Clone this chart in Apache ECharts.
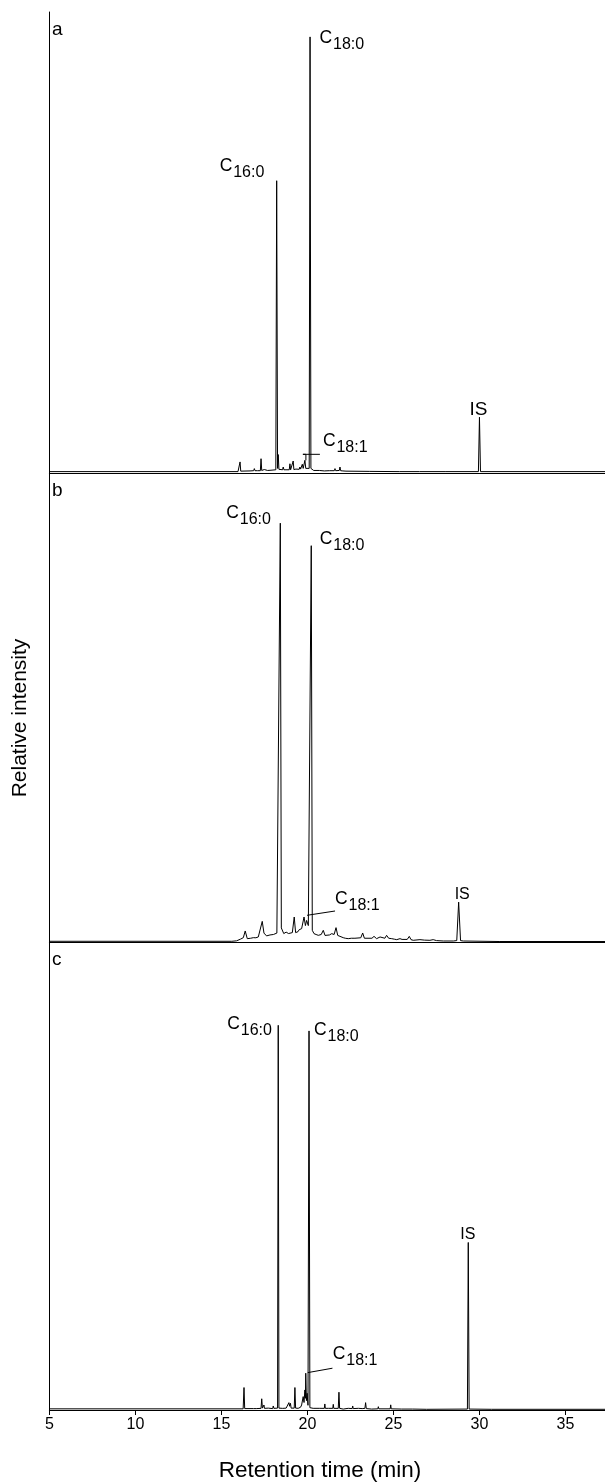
<!DOCTYPE html>
<html><head><meta charset="utf-8">
<script src="https://cdn.jsdelivr.net/npm/echarts@6/dist/echarts.min.js"></script>
<style>html,body{margin:0;padding:0;background:#fff}#c{width:605px;height:1483px}</style>
</head><body><div id="c"></div>
<script>
// ---------- DATA ----------
const panelLetters = ['a', 'b', 'c'];
const xTickValues = [5, 10, 15, 20, 25, 30, 35];
const xTitle = 'Retention time (min)';
const yTitle = 'Relative intensity';

// chromatogram traces: [retention time (min), relative intensity (% of panel)]
const traceA = [
[5,0.3],[15.96,0.3],[16.04,0.4],[16.08,2.4],[16.12,0.4],
[16.66,0.45],[16.71,0.6],[16.75,0.45],
[16.87,0.5],[16.91,0.95],[16.95,0.5],
[17.01,0.5],[17.05,0.6],[17.09,0.5],
[17.26,0.5],[17.30,3.1],[17.34,0.55],
[17.45,0.55],[17.49,0.75],[17.53,0.55],
[17.68,0.55],[17.72,0.6],[17.76,0.55],
[17.88,0.6],[17.92,0.95],[17.96,0.6],
[18.16,0.7],[18.21,63.4],[18.26,1.0],[18.30,4.0],[18.34,0.8],
[18.55,0.7],[18.59,1.3],[18.63,0.7],
[18.75,0.7],[18.79,0.8],[18.83,0.7],
[18.94,0.7],[18.98,2.0],[19.02,0.7],
[19.13,0.75],[19.17,2.6],[19.21,0.75],
[19.29,0.75],[19.33,0.85],[19.37,0.75],
[19.52,0.8],[19.56,1.3],[19.60,0.85],
[19.66,0.9],[19.70,1.9],[19.75,1.0],[19.81,1.0],[19.85,2.75],[19.90,1.0],
[20.10,1.0],[20.15,94.6],[20.20,1.0],
[20.36,0.55],[20.40,0.65],[20.44,0.55],
[20.69,0.55],[20.73,0.75],[20.77,0.5],
[20.98,0.45],[21.02,0.5],[21.06,0.45],
[21.27,0.5],[21.31,0.6],[21.35,0.5],
[21.56,0.5],[21.60,0.95],[21.64,0.5],
[21.85,0.55],[21.89,1.3],[21.93,0.5],
[21.98,0.5],[22.02,0.75],[22.06,0.45],
[22.24,0.4],[22.28,0.5],[22.32,0.4],
[23.59,0.35],[23.63,0.5],[23.67,0.35],
[25.34,0.3],[25.38,0.45],[25.42,0.3],
[26.51,0.3],[26.55,0.4],[26.59,0.3],
[28.05,0.3],[28.09,0.35],[28.13,0.3],
[29.94,0.3],[30.0,12.1],[30.06,0.3],
[37.3,0.3]
];
const traceB = [
[5,0.15],[15.6,0.15],[15.88,0.25],[16.1,0.6],[16.27,0.92],[16.38,2.35],[16.50,0.71],[16.7,0.8],
[16.85,0.92],[17.0,0.9],[17.14,1.07],[17.25,1.3],[17.37,4.4],[17.47,1.9],[17.53,1.78],[17.62,1.3],
[17.72,1.2],[17.82,1.5],[17.92,1.42],[18.02,1.6],[18.11,1.78],[18.22,1.9],[18.42,89.3],[18.48,3.0],
[18.56,2.84],[18.62,1.8],[18.69,1.92],[18.76,2.1],[18.83,2.49],[18.90,1.8],[18.98,1.78],[19.12,2.0],
[19.23,5.33],[19.31,2.0],[19.37,1.78],[19.45,2.2],[19.52,2.63],[19.59,2.3],[19.66,2.84],[19.72,2.6],
[19.80,5.33],[19.88,3.5],[19.95,4.6],[20.05,3.5],[20.22,84.5],[20.28,2.5],[20.38,1.78],[20.5,1.6],
[20.63,1.42],[20.80,1.6],[20.92,2.49],[21.02,1.4],[21.11,1.2],[21.28,1.5],[21.41,1.78],[21.55,1.6],
[21.66,3.06],[21.76,1.4],[21.85,1.2],[22.08,0.92],[22.2,0.8],[22.37,0.71],[22.55,0.8],[22.66,1.07],
[22.76,0.8],[22.86,0.92],[23.1,0.9],[23.21,1.92],[23.31,0.8],[23.40,0.71],[23.52,0.8],[23.63,0.92],
[23.75,0.8],[23.87,1.2],[23.95,0.8],[24.02,0.71],[24.12,0.8],[24.22,1.07],[24.32,0.8],[24.5,0.8],
[24.60,1.42],[24.72,0.8],[24.90,0.71],[25.05,0.6],[25.19,0.5],[25.38,0.71],[25.5,0.55],[25.61,0.5],
[25.8,0.55],[25.92,1.2],[26.02,0.5],[26.15,0.36],[26.54,0.5],[26.8,0.4],[27.12,0.36],[27.31,0.5],
[27.5,0.3],[27.90,0.21],[28.48,0.21],[28.68,0.3],[28.79,8.5],[28.90,0.3],[29.06,0.21],[31.19,0.1],
[37.3,0.1]
];
const traceC = [
[5,0.25],[16.26,0.25],[16.31,4.8],[16.35,0.3],[16.85,0.3],[17.02,0.3],[17.05,0.5],[17.08,0.3],
[17.30,0.35],[17.34,2.4],[17.38,0.4],[17.44,0.4],[17.47,1.07],[17.50,0.35],[17.72,0.4],[17.75,0.3],
[17.98,0.3],[18.01,0.86],[18.05,0.35],[18.26,0.4],[18.30,82.2],[18.34,0.4],[18.56,0.35],[18.59,0.5],
[18.62,0.35],[18.76,0.4],[18.79,0.71],[18.84,0.5],[18.92,1.57],[18.96,0.8],[19.01,1.43],[19.05,0.4],
[19.23,0.4],[19.27,4.8],[19.31,0.4],[19.46,0.36],[19.6,0.6],[19.66,1.07],[19.71,0.9],[19.75,2.86],
[19.8,1.6],[19.85,4.29],[19.88,2.5],[19.90,7.86],[19.94,2.0],[19.98,3.57],[20.03,1.0],[20.09,81.0],
[20.14,0.5],[20.33,0.36],[20.72,0.36],[20.98,0.35],[21.01,1.29],[21.04,0.35],[21.21,0.36],[21.47,0.35],
[21.50,1.21],[21.53,0.35],[21.79,0.35],[21.83,3.8],[21.87,0.35],[22.08,0.2],[22.37,0.36],[22.60,0.3],
[22.63,0.86],[22.66,0.3],[22.96,0.36],[23.18,0.3],[23.21,0.71],[23.25,0.3],[23.34,0.35],[23.38,1.57],
[23.42,0.3],[23.73,0.2],[24.09,0.25],[24.12,0.71],[24.15,0.25],[24.81,0.25],[24.84,1.1],[24.87,0.25],
[25.48,0.2],[26.12,0.2],[26.15,0.6],[26.18,0.2],[26.93,0.15],[29.30,0.2],[29.35,35.8],[29.40,0.2],
[30.71,0.15],[30.74,0.45],[30.77,0.15],[37.3,0.15]
];

// peak annotations: [main text, subscript, peak time, peak intensity]
const labelsA = [['C','16:0',18.21,63.4],['C','18:0',20.15,94.6],['C','18:1',19.85,2.75],['IS','',30.0,12.1]];
const labelsB = [['C','16:0',18.42,89.3],['C','18:0',20.22,84.5],['C','18:1',19.80,5.33],['IS','',28.79,8.5]];
const labelsC = [['C','16:0',18.30,82.2],['C','18:0',20.09,81.0],['C','18:1',19.90,7.86],['IS','',29.35,35.8]];

// ---------- LAYOUT ----------
const FONT = '"Liberation Sans", Arial, sans-serif';
const grids = [
  {left: 49.5, right: 0, top: 12, height: 461},
  {left: 49.5, right: 0, top: 473, height: 469},
  {left: 49.5, right: 0, top: 942, height: 468}
];
// label offsets relative to peak top (px): dx,dy = top-left of main text; leader = polyline offsets
const layouts = [
  [{dx:-57,dy:-24},{dx:9.5,dy:-8},{dx:18,dy:-28,leader:[[1,0],[1,-6],[-2,-6],[1,-6],[15,-6]]},{dx:-10,dy:-17,big:true}],
  [{dx:-54,dy:-19},{dx:8.5,dy:-16},{dx:31,dy:-27,leader:[[3,-1.7],[31,-6]]},{dx:-4,dy:-16}],
  [{dx:-51,dy:-10},{dx:5,dy:-10},{dx:27,dy:-28,leader:[[2,-0.6],[26.7,-5]]},{dx:-8,dy:-16}]
];

const chart = echarts.init(document.getElementById('c'), null, {renderer: 'canvas'});
const traces = [traceA, traceB, traceC];
const allLabels = [labelsA, labelsB, labelsC];

const xAxes = [], yAxes = [], series = [];
grids.forEach((g, i) => {
  const last = i === 2;
  xAxes.push({
    gridIndex: i, type: 'value', min: 5, max: 37.3, interval: 5,
    axisLine: {show: true, onZero: false, lineStyle: {color: '#000', width: 1.2}},
    axisTick: {show: last, length: 5, inside: false, lineStyle: {color: '#000', width: 1}},
    axisLabel: {show: last, showMaxLabel: false, color: '#000', fontSize: 16, fontFamily: FONT, margin: 7,
      formatter: v => xTickValues.indexOf(v) >= 0 ? String(v) : ''},
    splitLine: {show: false}
  });
  yAxes.push({
    gridIndex: i, type: 'value', min: 0, max: 100,
    axisLine: {show: true, lineStyle: {color: '#000', width: 1}},
    axisTick: {show: false}, axisLabel: {show: false}, splitLine: {show: false}
  });
  series.push({
    type: 'line', xAxisIndex: i, yAxisIndex: i, data: traces[i],
    showSymbol: false, symbol: 'none', smooth: false,
    lineStyle: {color: '#000', width: 1}, silent: true, animation: false
  });
});
// top border of panel a
xAxes.push({gridIndex: 0, type: 'value', position: 'top', min: 5, max: 37.3,
  axisLine: {show: true, lineStyle: {color: '#000', width: 1}},
  axisTick: {show: false}, axisLabel: {show: false}, splitLine: {show: false}});

chart.setOption({
  animation: false,
  backgroundColor: '#fff',
  grid: grids,
  xAxis: xAxes,
  yAxis: yAxes,
  series: series
});

const graphics = [];
function txt(x, y, text, size, extra) {
  return Object.assign({type: 'text', x: x, y: y, silent: true,
    style: {text: text, fontSize: size, fontFamily: FONT, fill: '#000',
      align: 'left', verticalAlign: 'top', textAlign: 'left', textVerticalAlign: 'top'}}, extra || {});
}
allLabels.forEach((labels, gi) => {
  labels.forEach((lb, li) => {
    const L = layouts[gi][li];
    const p = chart.convertToPixel({gridIndex: gi}, [lb[2], lb[3]]);
    const x = p[0] + L.dx, y = p[1] + L.dy;
    if (lb[1] === '') {
      graphics.push(txt(x, y, lb[0], L.big ? 19 : 16));
    } else {
      graphics.push(txt(x, y, lb[0], 17.5));
      graphics.push(txt(x + 13.5, y + 7.5, lb[1], 16));
    }
    if (L.leader) {
      graphics.push({type: 'polyline', silent: true,
        shape: {points: L.leader.map(o => [p[0] + o[0], p[1] + o[1]])},
        style: {stroke: '#000', lineWidth: 1, fill: null}});
    }
  });
});
panelLetters.forEach((ch, i) => {
  graphics.push(txt(52, grids[i].top + 8, ch, 19));
});
graphics.push({type: 'text', x: 20, y: 718, rotation: Math.PI / 2, silent: true,
  style: {text: yTitle, fontSize: 21, fontFamily: FONT, fill: '#000',
    align: 'center', verticalAlign: 'middle', textAlign: 'center', textVerticalAlign: 'middle'}});
graphics.push({type: 'text', x: 320, y: 1471, silent: true,
  style: {text: xTitle, fontSize: 22.5, fontFamily: FONT, fill: '#000',
    align: 'center', verticalAlign: 'middle', textAlign: 'center', textVerticalAlign: 'middle'}});

chart.setOption({graphic: {elements: graphics}});
</script>
</body></html>
